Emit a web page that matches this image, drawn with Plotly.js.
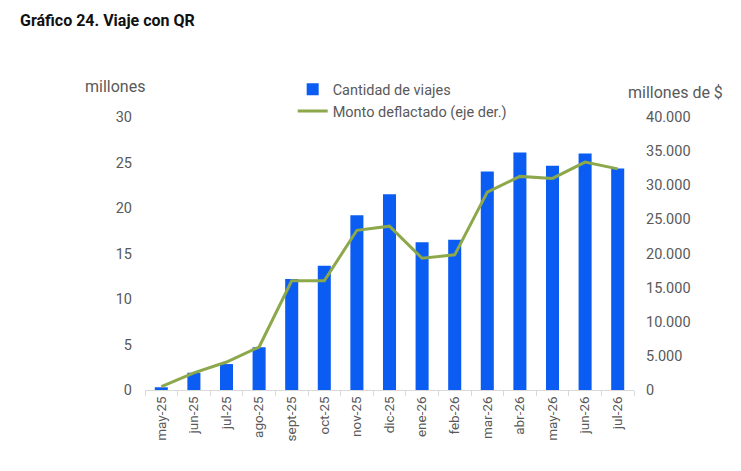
<!DOCTYPE html>
<html>
<head>
<meta charset="utf-8">
<script src="https://cdn.plot.ly/plotly-3.0.1.min.js"></script>
<style>html,body{margin:0;padding:0;background:#fff}#chart{width:741px;height:471px}</style>
</head>
<body>
<div id="chart"></div>
<script>
const categories = ["may-25","jun-25","jul-25","ago-25","sept-25","oct-25","nov-25","dic-25","ene-26","feb-26","mar-26","abr-26","may-26","jun-26","jul-26"];
const viajes = [0.3, 1.9, 2.85, 4.7, 12.2, 13.65, 19.2, 21.5, 16.25, 16.5, 24.0, 26.1, 24.65, 26.0, 24.35];
const montoDeflactado = [500, 2500, 4100, 6300, 16000, 16000, 23400, 24000, 19300, 19800, 29000, 31300, 31000, 33400, 32400];
const leftTicks = [0, 5, 10, 15, 20, 25, 30];
const rightTicks = [0, 5000, 10000, 15000, 20000, 25000, 30000, 35000, 40000];
const rightTickText = ["0", "5.000", "10.000", "15.000", "20.000", "25.000", "30.000", "35.000", "40.000"];

const grey = "#595959";
const traces = [
  {
    type: "bar", x: categories, y: viajes, name: "Cantidad de viajes",
    marker: {color: "#0A5CF2"}, yaxis: "y"
  },
  {
    type: "scatter", mode: "lines", x: categories, y: montoDeflactado,
    name: "Monto deflactado (eje der.)",
    line: {color: "#8CA84A", width: 3}, yaxis: "y2"
  }
];
const layout = {
  width: 741, height: 471,
  margin: {l: 145, r: 107, t: 117, b: 81},
  paper_bgcolor: "#fff", plot_bgcolor: "#fff",
  font: {family: "Roboto, Arial, sans-serif", color: grey, size: 14},
  bargap: 0.6,
  showlegend: true,
  legend: {
    x: 0.302, y: 1.16, xanchor: "left", yanchor: "top",
    orientation: "v", font: {size: 14.5, color: grey},
    itemwidth: 30, tracegroupgap: 0, bgcolor: "rgba(0,0,0,0)"
  },
  xaxis: {
    type: "category", tickangle: -90, showgrid: false,
    showline: true, linecolor: "#d9d9d9", linewidth: 1,
    ticks: "outside", ticklen: 5, tickcolor: "#d9d9d9", tickson: "boundaries",
    tickfont: {size: 13.5, color: grey}, fixedrange: true
  },
  yaxis: {
    range: [0, 30], tickvals: leftTicks, showgrid: false, zeroline: false,
    showline: false, ticks: "", tickfont: {size: 14.5, color: grey},
    ticklabelstandoff: 12
  },
  yaxis2: {
    range: [0, 40000], overlaying: "y", side: "right",
    tickvals: rightTicks, ticktext: rightTickText, showgrid: false,
    zeroline: false, showline: false, ticks: "", tickfont: {size: 14.5, color: grey},
    ticklabelstandoff: 11
  },
  annotations: [
    {text: "<b>Gráfico 24. Viaje con QR</b>", xref: "paper", yref: "paper",
     x: -(145-18)/489, y: 1 + (117-21)/273, xanchor: "left", yanchor: "middle",
     showarrow: false, font: {size: 16, color: "#111", family: "Roboto, Arial, sans-serif"}},
    {text: "millones", xref: "paper", yref: "paper",
     x: -(145-115)/489, y: 1 + (117-87)/273, xanchor: "center", yanchor: "middle",
     showarrow: false, font: {size: 16, color: grey}},
    {text: "millones de $", xref: "paper", yref: "paper",
     x: 1 + (675-634)/489, y: 1 + (117-92)/273, xanchor: "center", yanchor: "middle",
     showarrow: false, font: {size: 16, color: grey}}
  ]
};
Plotly.newPlot("chart", traces, layout, {displayModeBar: false, staticPlot: true});
</script>
</body>
</html>
